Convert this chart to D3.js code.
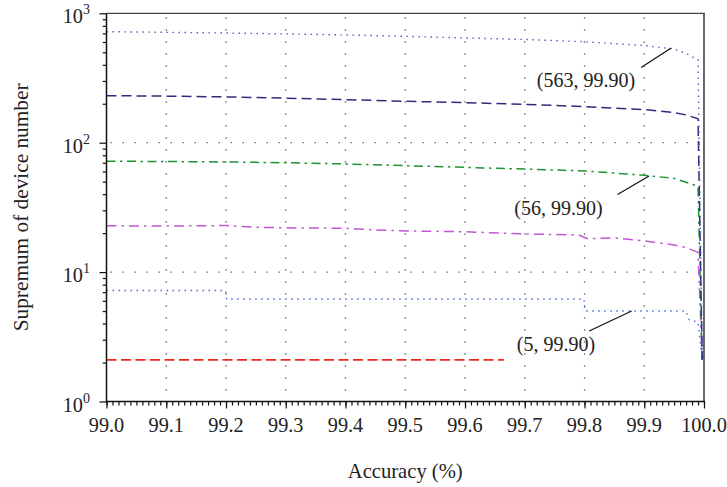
<!DOCTYPE html>
<html>
<head>
<meta charset="utf-8">
<script src="https://cdn.jsdelivr.net/npm/d3@7/dist/d3.min.js"></script>
</head>
<body style="margin:0;background:#fff">
<div id="wrap"></div>
<script>
// Supremum of device number versus required accuracy, one curve per configuration
const acc563 = [99.0, 99.1, 99.2, 99.3, 99.4, 99.5, 99.6, 99.7, 99.8, 99.9, 99.95, 99.97, 99.99, 99.997];
const sup563 = [721, 713, 704, 693, 680, 664, 645, 628, 603, 563, 530, 490, 437, 2.1];

const accNavy = [99.0, 99.1, 99.2, 99.3, 99.4, 99.5, 99.6, 99.7, 99.8, 99.9, 99.95, 99.97, 99.99, 99.997];
const supNavy = [231, 229, 226, 221, 215, 209, 204, 198, 190, 180, 171, 164, 153, 2.1];

const acc56 = [99.0, 99.1, 99.2, 99.3, 99.4, 99.5, 99.6, 99.7, 99.8, 99.9, 99.95, 99.97, 99.99, 99.997];
const sup56 = [72, 71.5, 71, 70, 68.5, 66.5, 64.5, 62.5, 60.5, 56, 53, 49.5, 46, 2.1];

const accMagenta = [99.0, 99.1, 99.2, 99.25, 99.3, 99.4, 99.45, 99.5, 99.6, 99.7, 99.79, 99.805, 99.85, 99.9, 99.95, 99.97, 99.99, 99.997];
const supMagenta = [22.8, 22.7, 22.9, 22.2, 22.0, 21.8, 21.2, 20.8, 20.5, 19.7, 19.4, 18.1, 18.4, 17.4, 16.2, 15.5, 14.2, 2.1];

const acc5 = [99.0, 99.199, 99.201, 99.799, 99.801, 99.97, 99.975, 99.99, 99.997];
const sup5 = [7.2, 7.2, 6.2, 6.2, 5, 5, 4.3, 4.1, 2.1];

const accRed = [99.0, 99.665];
const supRed = [2.1, 2.1];

const xTicks = [99.0, 99.1, 99.2, 99.3, 99.4, 99.5, 99.6, 99.7, 99.8, 99.9, 100.0];
const xTickLabels = ["99.0", "99.1", "99.2", "99.3", "99.4", "99.5", "99.6", "99.7", "99.8", "99.9", "100.0"];
const yTicks = [1, 10, 100, 1000];
const yExponents = ["0", "1", "2", "3"];

// annotations: tip of the leader on the curve, and the label
const noteAcc = [99.945, 99.908, 99.879];
const noteVal = [540, 55.2, 5];
const noteText = ["(563, 99.90)", "(56, 99.90)", "(5, 99.90)"];

const FONT = "Liberation Serif";
const L = 106.5, R = 704, T = 13.3, B = 401.5;

const svg = d3.select("#wrap").append("svg")
  .attr("width", 727).attr("height", 487).style("display", "block");

const x = d3.scaleLinear().domain([99, 100]).range([L, R]);
const y = d3.scaleLog().domain([1, 1000]).range([B, T]);

// every text element is made through this helper so it carries the serif face itself
function label(parent, str, size) {
  return parent.append("text")
    .style("font-family", FONT).style("font-size", size + "px")
    .attr("fill", "#222").text(str);
}

svg.append("defs").append("clipPath").attr("id", "plotClip")
  .append("rect").attr("x", L).attr("y", T - 1).attr("width", R - L).attr("height", B - T + 1);

// grid
const grid = svg.append("g");
grid.selectAll("line.vg").data(xTicks.slice(1, -1)).join("line")
  .attr("x1", d => x(d)).attr("x2", d => x(d)).attr("y1", T + 4).attr("y2", B)
  .attr("stroke", "#666").attr("stroke-width", 1.3).attr("stroke-dasharray", "1.4,10.6");
grid.selectAll("line.hg").data([10, 100]).join("line")
  .attr("x1", L + 4).attr("x2", R).attr("y1", d => y(d)).attr("y2", d => y(d))
  .attr("stroke", "#666").attr("stroke-width", 1.3).attr("stroke-dasharray", "1.4,10.6");

// curves
const line = d3.line().x(d => x(d[0])).y(d => y(d[1]));
const series = [
  { a: accRed, v: supRed, color: "#f0281c", dash: "10,4.5", w: 1.7 },
  { a: acc5, v: sup5, color: "#3f6fda", dash: "1.5,4.5", w: 1.4 },
  { a: accMagenta, v: supMagenta, color: "#c455d6", dash: "10,5,2.5,5", w: 1.5 },
  { a: acc56, v: sup56, color: "#1f9433", dash: "9,4.5,2.5,4.5", w: 1.5 },
  { a: accNavy, v: supNavy, color: "#2d2d7d", dash: "10,5", w: 1.5 },
  { a: acc563, v: sup563, color: "#5a58d2", dash: "1.5,4.5", w: 1.4 }
];
const curves = svg.append("g").attr("clip-path", "url(#plotClip)");
series.forEach(s => {
  curves.append("path")
    .attr("d", line(s.a.map((a, i) => [a, s.v[i]])))
    .attr("fill", "none").attr("stroke", s.color)
    .attr("stroke-width", s.w).attr("stroke-dasharray", s.dash);
});

// frame
svg.append("line").attr("x1", L).attr("x2", R + 1).attr("y1", T).attr("y2", T)
  .attr("stroke", "#444").attr("stroke-width", 1.2);
svg.append("line").attr("x1", R).attr("x2", R).attr("y1", T).attr("y2", B)
  .attr("stroke", "#666").attr("stroke-width", 2);

// x axis: minor ticks every 0.01, major ticks every 0.1 (labels drawn separately)
const xAxisG = svg.append("g").attr("transform", `translate(0,${B})`);
xAxisG.append("g").call(d3.axisBottom(x).tickValues(d3.range(0, 101).map(i => 99 + i / 100))
  .tickSize(4).tickFormat(""));
xAxisG.append("g").call(d3.axisBottom(x).tickValues(xTicks).tickSize(7).tickFormat(""));
xAxisG.selectAll(".domain").remove();
xAxisG.selectAll("line").attr("stroke", "#111").attr("stroke-width", 1.2);
xTicks.forEach((t, i) => {
  label(svg, xTickLabels[i], 20.3).attr("x", x(t)).attr("y", B + 30.3).attr("text-anchor", "middle");
});
svg.append("line").attr("x1", L - 0.6).attr("x2", R + 1).attr("y1", B).attr("y2", B)
  .attr("stroke", "#111").attr("stroke-width", 1.5);

// y axis: log decades with minor ticks 2..9
const minorY = [];
[1, 10, 100].forEach(dec => { for (let k = 2; k <= 9; k++) minorY.push(dec * k); });
const yAxisG = svg.append("g").attr("transform", `translate(${L},0)`);
yAxisG.append("g").call(d3.axisLeft(y).tickValues(minorY).tickSize(3.8).tickFormat(""));
yAxisG.append("g").call(d3.axisLeft(y).tickValues(yTicks).tickSize(7).tickFormat(""));
yAxisG.selectAll(".domain").remove();
yAxisG.selectAll("line").attr("stroke", "#111").attr("stroke-width", 1.2);
svg.append("line").attr("x1", L).attr("x2", L).attr("y1", T).attr("y2", B + 0.7)
  .attr("stroke", "#111").attr("stroke-width", 1.5);

yTicks.forEach((t, i) => {
  const tx = label(svg, "", 20.3).attr("x", 90).attr("y", y(t) + 10).attr("text-anchor", "end");
  tx.append("tspan").text("10");
  tx.append("tspan").attr("dy", -9).style("font-size", "14px").text(yExponents[i]);
});

// titles
label(svg, "Accuracy (%)", 20.6).attr("x", (L + R) / 2).attr("y", 478).attr("text-anchor", "middle");
label(svg, "Supremum of device number", 21.3)
  .attr("transform", `translate(27.8,${(T + B) / 2}) rotate(-90)`).attr("text-anchor", "middle");

// annotations
const noteDx = [-30, -31.5, -42.5];
const noteDy = [19.5, 18.5, 20];
const labelPos = [[586, 87.3], [558.5, 215], [556, 350.7]];
noteText.forEach((t, i) => {
  const px = x(noteAcc[i]), py = y(noteVal[i]);
  svg.append("line").attr("x1", px).attr("y1", py)
    .attr("x2", px + noteDx[i]).attr("y2", py + noteDy[i])
    .attr("stroke", "#111").attr("stroke-width", 1.2);
  label(svg, t, 20).attr("x", labelPos[i][0]).attr("y", labelPos[i][1]).attr("text-anchor", "middle");
});
</script>
</body>
</html>
